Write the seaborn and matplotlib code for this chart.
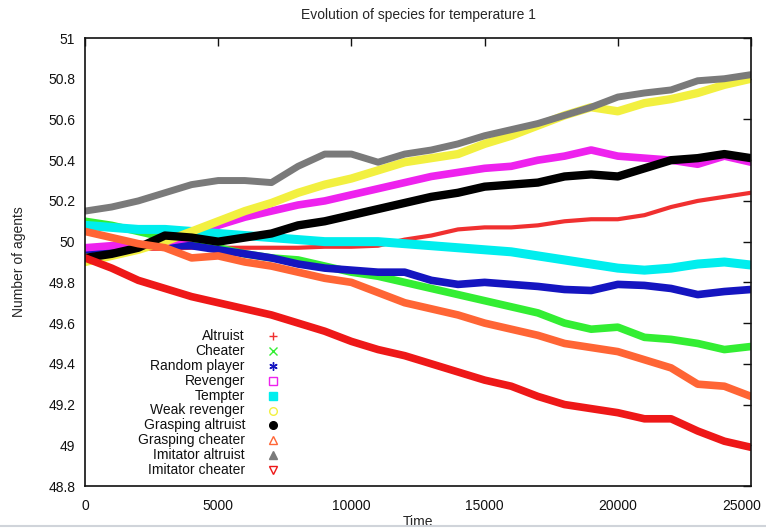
import numpy as np
import pandas as pd
import matplotlib
matplotlib.use("Agg")
import matplotlib.pyplot as plt
from matplotlib.lines import Line2D
from matplotlib.transforms import ScaledTranslation
import seaborn as sns

# Sampling times (every 1000 steps)
time = list(range(0, 25001, 1000))

species = ["Altruist", "Cheater", "Random player", "Revenger", "Tempter",
           "Weak revenger", "Grasping altruist", "Grasping cheater",
           "Imitator altruist", "Imitator cheater"]

altruist = [49.96, 49.96, 49.965, 49.965, 49.97, 49.97, 49.97, 49.97, 49.97, 49.975,
            49.975, 49.98, 50.01, 50.03, 50.06, 50.07, 50.07, 50.08, 50.10, 50.11,
            50.11, 50.13, 50.17, 50.20, 50.22, 50.24]
cheater = [50.10, 50.08, 50.05, 50.02, 49.99, 49.97, 49.94, 49.92, 49.91, 49.88,
           49.85, 49.83, 49.80, 49.77, 49.74, 49.71, 49.68, 49.65, 49.60, 49.57,
           49.58, 49.53, 49.52, 49.50, 49.47, 49.485]
random_player = [49.96, 49.97, 49.98, 49.98, 49.98, 49.96, 49.94, 49.92, 49.89, 49.87,
                 49.86, 49.85, 49.85, 49.81, 49.79, 49.80, 49.79, 49.78, 49.765, 49.76,
                 49.79, 49.785, 49.77, 49.74, 49.755, 49.765]
revenger = [49.97, 49.98, 49.98, 50.00, 50.02, 50.08, 50.12, 50.15, 50.18, 50.20,
            50.23, 50.26, 50.29, 50.32, 50.34, 50.36, 50.37, 50.40, 50.42, 50.45,
            50.42, 50.41, 50.40, 50.38, 50.42, 50.39]
tempter = [50.08, 50.07, 50.06, 50.06, 50.05, 50.04, 50.03, 50.02, 50.01, 50.00,
           50.00, 50.00, 49.99, 49.98, 49.97, 49.96, 49.95, 49.93, 49.91, 49.89,
           49.87, 49.86, 49.87, 49.89, 49.90, 49.885]
weak_revenger = [49.90, 49.93, 49.96, 50.00, 50.05, 50.10, 50.15, 50.19, 50.24, 50.28,
                 50.31, 50.35, 50.39, 50.41, 50.43, 50.48, 50.52, 50.57, 50.62, 50.66,
                 50.64, 50.68, 50.70, 50.73, 50.77, 50.80]
grasping_altruist = [49.92, 49.94, 49.97, 50.03, 50.02, 50.00, 50.02, 50.04, 50.08, 50.10,
                     50.13, 50.16, 50.19, 50.22, 50.24, 50.27, 50.28, 50.29, 50.32, 50.33,
                     50.32, 50.36, 50.40, 50.41, 50.43, 50.41]
grasping_cheater = [50.05, 50.02, 49.99, 49.97, 49.92, 49.93, 49.90, 49.88, 49.85, 49.82,
                    49.80, 49.75, 49.70, 49.67, 49.64, 49.60, 49.57, 49.54, 49.50, 49.48,
                    49.46, 49.42, 49.38, 49.30, 49.29, 49.24]
imitator_altruist = [50.15, 50.17, 50.20, 50.24, 50.28, 50.30, 50.30, 50.29, 50.37, 50.43,
                     50.43, 50.39, 50.43, 50.45, 50.48, 50.52, 50.55, 50.58, 50.62, 50.66,
                     50.71, 50.73, 50.745, 50.79, 50.80, 50.82]
imitator_cheater = [49.92, 49.87, 49.81, 49.77, 49.73, 49.70, 49.67, 49.64, 49.60, 49.56,
                    49.51, 49.47, 49.44, 49.40, 49.36, 49.32, 49.29, 49.24, 49.20, 49.18,
                    49.16, 49.13, 49.13, 49.07, 49.02, 48.99]

series = [altruist, cheater, random_player, revenger, tempter, weak_revenger,
          grasping_altruist, grasping_cheater, imitator_altruist, imitator_cheater]

colors = ["#f03030", "#33ee33", "#1515c0", "#ee22ee", "#00eeee",
          "#f2f040", "#000000", "#ff6535", "#7a7a7a", "#ee1818"]
widths = [3.0, 5.5, 5.5, 5.5, 6.5, 6.0, 6.0, 5.5, 5.0, 5.5]

# gnuplot-style point types for the key
markers = ["+", "x", (6, 2, 0), "s", "s", "o", "o", "^", "^", "v"]
filled = [True, True, True, False, True, False, True, False, True, False]

sns.set_style("white")
plt.rcParams["font.family"] = ["Liberation Sans", "DejaVu Sans"]

fig = plt.figure(figsize=(7.66, 5.28), dpi=100)
ax = fig.add_axes([85 / 766, 1 - 486 / 528, (751 - 85) / 766, (486 - 38) / 528])

for name, vals, col, lw in zip(species, series, colors, widths):
    df = pd.DataFrame({"Time": time, "Agents": vals})
    sns.lineplot(data=df, x="Time", y="Agents", color=col, linewidth=lw,
                 ax=ax, legend=False, solid_joinstyle="round", solid_capstyle="round")

ax.set_xlim(0, 25000)
ax.set_ylim(48.8, 51)
ax.set_xticks(range(0, 25001, 5000))
ax.set_yticks([48.8, 49, 49.2, 49.4, 49.6, 49.8, 50, 50.2, 50.4, 50.6, 50.8, 51])
ax.set_yticklabels(["48.8", "49", "49.2", "49.4", "49.6", "49.8", "50",
                    "50.2", "50.4", "50.6", "50.8", "51"])
ax.tick_params(direction="in", length=6, width=1, top=True, right=True,
               labelsize=10, colors="#111111", pad=7)
ax.tick_params(axis="x", pad=9)
for s in ax.spines.values():
    s.set_color("#111111")
    s.set_linewidth(1.2)

# pull the last x label slightly inward so it stays on the canvas
last = ax.get_xticklabels()[-1]
last.set_transform(last.get_transform() + ScaledTranslation(-7 / 72, 0, fig.dpi_scale_trans))

ax.set_xlabel("Time", fontsize=10)
ax.xaxis.set_label_coords(0.5, -(515 - 486) / 448)
ax.xaxis.label.set_va("top")
ax.set_ylabel("Number of agents", fontsize=10, labelpad=16)
ax.set_title("Evolution of species for temperature 1", fontsize=10, pad=14)

# key: right-aligned names with sample points to their right
y0 = 1 - (336 - 38) / 448
dy = 14.9 / 448
tx = (245 - 85) / 666
mx = (273 - 85) / 666
for i, (name, col, mk, fl) in enumerate(zip(species, colors, markers, filled)):
    yy = y0 - i * dy
    ax.text(tx, yy, name, transform=ax.transAxes, ha="right", va="center",
            fontsize=10, color="#111111")
    ax.add_line(Line2D([mx], [yy], transform=ax.transAxes, marker=mk,
                       markersize=6 if mk not in ("o",) else 5.5,
                       markerfacecolor=col if fl else "none",
                       markeredgecolor=col, markeredgewidth=1.0,
                       linestyle="none", clip_on=False))

# thin border line near bottom of the image
fig.add_artist(Line2D([0, 1], [2.5 / 528, 2.5 / 528], transform=fig.transFigure,
                      color="#d0d4da", linewidth=1.5))

fig.savefig("out.png", dpi=100)
